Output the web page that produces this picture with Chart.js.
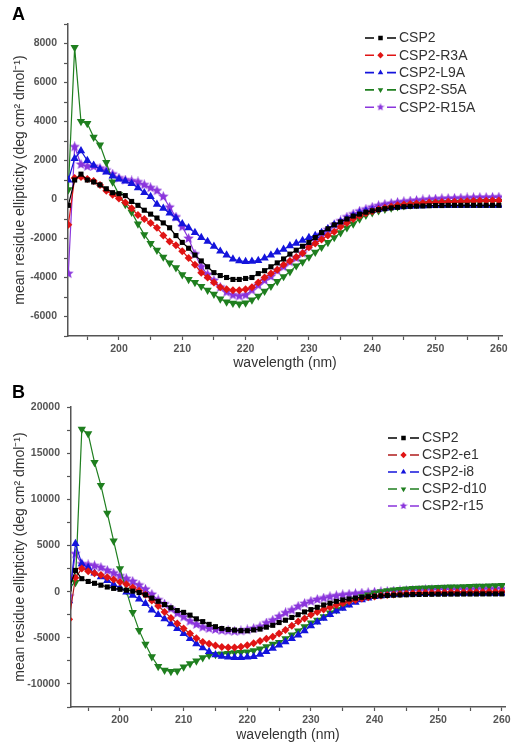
<!DOCTYPE html>
<html>
<head>
<meta charset="utf-8">
<script src="https://cdn.jsdelivr.net/npm/chart.js@4.4.1/dist/chart.umd.min.js"></script>
<style>
  body { margin: 0; background: #fff; }
  .panel { position: absolute; left: 0; width: 515px; height: 375px; }
</style>
</head>
<body>
<div class="panel" style="top:0"><canvas id="chartA" width="515" height="375"></canvas></div>
<div class="panel" style="top:375px"><canvas id="chartB" width="515" height="375"></canvas></div>
<script>
// wavelength points (nm)
const wavelengths = [192,193,194,195,196,197,198,199,200,201,
  202,203,204,205,206,207,208,209,210,211,
  212,213,214,215,216,217,218,219,220,221,
  222,223,224,225,226,227,228,229,230,231,
  232,233,234,235,236,237,238,239,240,241,
  242,243,244,245,246,247,248,249,250,251,
  252,253,254,255,256,257,258,259,260];

// panel A
const namesA = ["CSP2", "CSP2-R3A", "CSP2-L9A", "CSP2-S5A", "CSP2-R15A"];
const csp2A = [-300,1000,1300,1000,900,750,550,350,300,200,
  -100,-300,-550,-750,-950,-1200,-1450,-1850,-2200,-2500,
  -2850,-3150,-3450,-3750,-3900,-4000,-4100,-4100,-4050,-4000,
  -3800,-3650,-3450,-3250,-3050,-2800,-2600,-2400,-2200,-1950,
  -1700,-1500,-1300,-1150,-1000,-850,-750,-650,-580,-520,
  -470,-430,-400,-370,-350,-340,-330,-320,-310,-310,
  -300,-300,-300,-300,-300,-300,-300,-300,-300];
const r3a = [-1300,1100,1150,1050,950,750,450,250,50,-150,
  -450,-800,-1000,-1200,-1450,-1850,-2150,-2350,-2650,-3000,
  -3350,-3750,-4000,-4250,-4500,-4600,-4650,-4650,-4600,-4500,
  -4250,-4000,-3800,-3600,-3350,-3150,-2950,-2750,-2450,-2250,
  -2050,-1850,-1650,-1400,-1200,-1000,-850,-700,-600,-500,
  -420,-360,-300,-260,-230,-200,-180,-160,-150,-130,
  -120,-110,-100,-90,-80,-70,-60,-50,-50];
const l9a = [1000,2100,2500,2000,1750,1550,1400,1200,1050,950,
  820,600,350,150,-250,-450,-700,-950,-1250,-1450,
  -1700,-1950,-2150,-2400,-2650,-2850,-3050,-3150,-3180,-3170,
  -3130,-3000,-2850,-2700,-2550,-2380,-2250,-2100,-1950,-1850,
  -1700,-1500,-1300,-1150,-1000,-850,-700,-600,-550,-500,
  -450,-400,-380,-360,-340,-330,-320,-310,-300,-300,
  -300,-300,-300,-300,-300,-300,-300,-300,-300];
const s5a = [500,7800,4000,3900,3200,2800,1900,900,250,-250,
  -650,-1250,-1800,-2250,-2600,-2950,-3250,-3500,-3850,-4100,
  -4250,-4450,-4650,-4850,-5100,-5250,-5320,-5350,-5300,-5150,
  -4950,-4700,-4450,-4200,-3950,-3700,-3400,-3200,-2950,-2700,
  -2450,-2200,-1950,-1700,-1450,-1250,-1000,-800,-680,-580,
  -500,-430,-370,-320,-280,-250,-220,-200,-180,-170,
  -160,-150,-140,-130,-120,-110,-100,-100,-100];
const r15a = [-3800,2700,1800,1700,1700,1600,1500,1300,1100,1000,
  950,900,750,600,450,150,-400,-900,-1400,-2000,
  -2800,-3450,-3850,-4150,-4500,-4750,-4900,-4950,-4900,-4650,
  -4400,-4150,-3950,-3650,-3450,-3200,-3000,-2750,-2400,-2100,
  -1800,-1550,-1300,-1100,-900,-750,-600,-500,-400,-320,
  -250,-200,-150,-110,-80,-50,-20,0,20,40,
  50,60,70,80,90,100,100,110,120];

// panel B
const namesB = ["CSP2", "CSP2-e1", "CSP2-i8", "CSP2-d10", "CSP2-r15"];
const csp2B = [300,2300,1400,1100,900,700,500,350,250,150,
  50,-100,-350,-700,-1050,-1400,-1750,-2050,-2250,-2550,
  -2950,-3250,-3550,-3800,-4000,-4100,-4170,-4230,-4240,-4150,
  -4060,-3850,-3650,-3350,-3100,-2800,-2500,-2200,-1950,-1700,
  -1450,-1250,-1050,-900,-800,-700,-620,-550,-500,-450,
  -420,-390,-360,-340,-320,-310,-300,-290,-280,-280,
  -270,-270,-260,-260,-260,-250,-250,-250,-250];
const e1 = [-3000,1500,2500,2200,2000,1800,1550,1300,1050,800,
  450,100,-350,-950,-1550,-2200,-2850,-3450,-4000,-4550,
  -5050,-5450,-5650,-5850,-6000,-6050,-6050,-5980,-5800,-5600,
  -5350,-5100,-4900,-4550,-4150,-3700,-3250,-2900,-2500,-2200,
  -1950,-1700,-1450,-1250,-1050,-900,-750,-620,-520,-430,
  -360,-300,-250,-210,-180,-150,-130,-110,-100,-90,
  -80,-70,-60,-50,-40,-30,-20,-10,0];
const i8 = [-1000,5200,3000,2600,2000,1600,1200,800,400,-50,
  -400,-800,-1300,-2000,-2500,-2950,-3500,-4000,-4550,-5100,
  -5650,-6100,-6500,-6850,-7000,-7100,-7150,-7150,-7100,-7050,
  -6800,-6500,-6150,-5800,-5450,-5100,-4700,-4250,-3700,-3300,
  -2900,-2500,-2100,-1800,-1450,-1150,-900,-700,-550,-450,
  -380,-330,-290,-260,-240,-220,-200,-190,-180,-180,
  -180,-180,-180,-190,-190,-200,-200,-200,-200];
const d10 = [500,1000,17600,17100,14000,11500,8500,5500,2500,100,
  -2250,-4200,-5700,-7050,-8100,-8500,-8650,-8600,-8150,-7800,
  -7500,-7150,-6900,-6800,-6750,-6700,-6620,-6580,-6520,-6400,
  -6200,-5950,-5700,-5500,-5100,-4700,-4250,-3800,-3400,-3100,
  -2700,-2300,-1950,-1600,-1250,-850,-550,-350,-150,0,
  100,180,250,300,350,380,410,440,460,480,
  500,520,540,560,580,600,620,640,660];
const r15 = [-500,4100,3000,2900,2800,2600,2300,2000,1700,1400,
  1100,700,250,-300,-900,-1350,-1850,-2350,-2750,-3200,
  -3550,-3850,-4000,-4100,-4200,-4250,-4300,-4250,-4150,-4000,
  -3800,-3400,-3100,-2700,-2300,-2000,-1600,-1300,-1050,-850,
  -700,-550,-450,-350,-280,-220,-160,-110,-60,-20,
  20,60,90,120,150,170,190,210,230,240,
  250,260,270,280,290,300,300,310,310];

// tick positions
const xTicks = [195,200,205,210,215,220,225,230,235,240,245,250,255,260];
const yTicksA = [-7000,-6000,-5000,-4000,-3000,-2000,-1000,0,1000,2000,3000,4000,5000,6000,7000,8000,9000];
const yTicksB = [-12500,-10000,-7500,-5000,-2500,0,2500,5000,7500,10000,12500,15000,17500,20000];

// filled star marker for the purple series
function makeStar(color, size) {
  const c = document.createElement("canvas");
  c.width = size; c.height = size;
  const g = c.getContext("2d");
  const cx = size / 2, cy = size / 2, ro = size / 2, ri = ro * 0.45;
  g.beginPath();
  for (let k = 0; k < 10; k++) {
    const r = k % 2 === 0 ? ro : ri;
    const a = -Math.PI / 2 + k * Math.PI / 5;
    g.lineTo(cx + r * Math.cos(a), cy + r * Math.sin(a));
  }
  g.closePath();
  g.fillStyle = color;
  g.fill();
  return c;
}

const purple = "#8a35dc";
const starBig = makeStar(purple, 11);
const starSmall = makeStar(purple, 8);

const styles = [
  { line: "#000000", fill: "#000000", pointStyle: "rect", rotation: 0, radius: 3.6 },
  { line: "#e01414", fill: "#e01414", pointStyle: "rectRot", rotation: 0, radius: 4 },
  { line: "#1414dc", fill: "#1414dc", pointStyle: "triangle", rotation: 0, radius: 4.8 },
  { line: "#1f7f1f", fill: "#1f7f1f", pointStyle: "triangle", rotation: 180, radius: 4.8 },
  { line: purple, fill: purple, pointStyle: starBig, rotation: 0, radius: 4.5 },
];

function makeDatasets(names, series, redLine) {
  return series.map((vals, i) => {
    const s = styles[i];
    return {
      label: names[i],
      data: wavelengths.map((w, j) => ({ x: w, y: vals[j] })),
      borderColor: i === 1 && redLine ? redLine : s.line,
      backgroundColor: s.fill,
      pointBackgroundColor: s.fill,
      pointBorderColor: s.fill,
      pointBorderWidth: 0,
      pointStyle: s.pointStyle,
      rotation: s.rotation,
      pointRadius: s.radius,
      borderWidth: 1.2,
      showLine: true,
      tension: 0,
    };
  });
}

// legend drawn inside the plot, Origin style: -marker-  label
const insideLegend = {
  id: "insideLegend",
  afterDraw(chart, args, opts) {
    const ctx = chart.ctx;
    ctx.save();
    chart.data.datasets.forEach((ds, i) => {
      const y = opts.y + i * opts.dy;
      const x0 = opts.x;
      ctx.strokeStyle = ds.borderColor;
      ctx.lineWidth = 1.6;
      ctx.beginPath();
      ctx.moveTo(x0, y); ctx.lineTo(x0 + 9, y);
      ctx.moveTo(x0 + 22, y); ctx.lineTo(x0 + 31, y);
      ctx.stroke();
      ctx.fillStyle = ds.pointBackgroundColor;
      ctx.strokeStyle = ds.pointBackgroundColor;
      const ps = ds.pointStyle === starBig ? starSmall : ds.pointStyle;
      Chart.helpers.drawPoint(ctx, { pointStyle: ps, rotation: ds.rotation, radius: 3.2, borderWidth: 0 }, x0 + 15.5, y);
      ctx.fillStyle = "#333";
      ctx.font = "14px 'Liberation Sans', Arial, sans-serif";
      ctx.textBaseline = "middle";
      ctx.textAlign = "left";
      ctx.fillText(ds.label, x0 + 34, y + 0.5);
    });
    ctx.restore();
  },
};

const panelLetter = {
  id: "panelLetter",
  afterDraw(chart, args, opts) {
    const ctx = chart.ctx;
    ctx.save();
    ctx.fillStyle = "#000";
    ctx.font = "bold 18px 'Liberation Sans', Arial, sans-serif";
    ctx.textBaseline = "middle";
    ctx.fillText(opts.text, opts.x, opts.y);
    ctx.restore();
  },
};

const axisGrey = "#555";
const tickFont = { family: "'Liberation Sans', Arial, sans-serif", size: 10.5, weight: "bold" };
const titleFont = { family: "'Liberation Sans', Arial, sans-serif", size: 14 };

function makeChart(id, datasets, cfg) {
  return new Chart(document.getElementById(id), {
    type: "scatter",
    data: { datasets },
    plugins: [insideLegend, panelLetter],
    options: {
      responsive: false,
      animation: false,
      devicePixelRatio: 1,
      layout: { padding: cfg.padding },
      plugins: {
        legend: { display: false },
        tooltip: { enabled: false },
        insideLegend: cfg.legend,
        panelLetter: cfg.letter,
      },
      scales: {
        x: {
          type: "linear",
          min: cfg.xMin,
          max: 260.5,
          afterBuildTicks: (scale) => { scale.ticks = xTicks.map((v) => ({ value: v })); },
          afterFit: (scale) => { scale.height = cfg.xHeight; },
          ticks: {
            autoSkip: false,
            maxRotation: 0,
            padding: 3,
            color: "#555",
            font: tickFont,
            callback: (v) => (v % 10 === 0 ? String(v) : ""),
          },
          grid: { drawOnChartArea: false, drawTicks: true, tickLength: 4, color: axisGrey, tickWidth: 1.2 },
          border: { display: true, color: axisGrey, width: 1.5 },
          title: { display: true, text: "wavelength (nm)", color: "#333", font: titleFont, padding: { top: 0, bottom: cfg.xTitlePad } },
        },
        y: {
          type: "linear",
          min: cfg.yMin,
          max: cfg.yMax,
          afterBuildTicks: (scale) => { scale.ticks = cfg.yTicks.map((v) => ({ value: v })); },
          afterFit: (scale) => { scale.width = cfg.yWidth; },
          ticks: {
            autoSkip: false,
            padding: 7,
            color: "#555",
            font: tickFont,
            callback: (v) => (v % cfg.labelStep === 0 && v > cfg.yMin ? String(v) : ""),
          },
          grid: { drawOnChartArea: false, drawTicks: true, tickLength: 4, color: axisGrey, tickWidth: 1.2 },
          border: { display: true, color: axisGrey, width: 1.5 },
          title: { display: true, text: "mean residue ellipticity (deg cm\u00B2 dmol\u207B\u00B9)", color: "#333", font: titleFont, padding: { top: 11.5, bottom: 0 } },
        },
      },
    },
  });
}

makeChart("chartA", makeDatasets(namesA, [csp2A, r3a, l9a, s5a, r15a]), {
  padding: { left: 0, right: 13, top: 24, bottom: 0 },
  xMin: 191.95, xHeight: 39, xTitlePad: 3.5,
  yMin: -7000, yMax: 9000, yTicks: yTicksA, yWidth: 68, labelStep: 2000,
  legend: { x: 365, y: 38, dy: 17.3 },
  letter: { text: "A", x: 12, y: 15 },
});

makeChart("chartB", makeDatasets(namesB, [csp2B, e1, i8, d10, r15], "#b01c1c"), {
  padding: { left: 0, right: 10, top: 32, bottom: 0 },
  xMin: 192.3, xHeight: 43, xTitlePad: 6.5,
  yMin: -12500, yMax: 20000, yTicks: yTicksB, yWidth: 71, labelStep: 5000,
  legend: { x: 388, y: 63, dy: 17 },
  letter: { text: "B", x: 12, y: 18 },
});
</script>
</body>
</html>
